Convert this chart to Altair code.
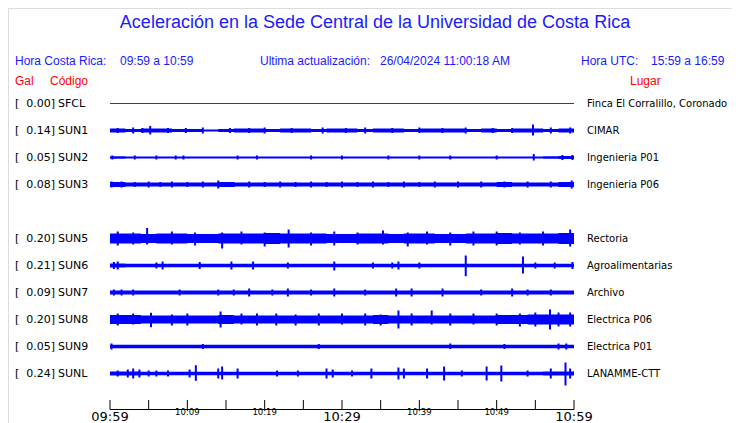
import altair as alt
import pandas as pd

# ---------------- data ----------------
codes = ["SFCL", "SUN1", "SUN2", "SUN3", "SUN5", "SUN6", "SUN7", "SUN8", "SUN9", "SUNL"]
rows = [0, 1, 2, 3, 5, 6, 7, 8, 9, 10]
gal = ["0.00", "0.14", "0.05", "0.08", "0.20", "0.21", "0.09", "0.20", "0.05", "0.24"]
places = ["Finca El Corralillo, Coronado", "CIMAR", "Ingenieria P01", "Ingenieria P06",
          "Rectoria", "Agroalimentarias", "Archivo", "Electrica P06", "Electrica P01",
          "LANAMME-CTT"]

# envelope half-amplitude per 2-minute block (30 blocks, 09:59 -> 10:59)
base_sun1 = [2, 1.5, 2, 2, 1.5, 1.5, 1, 1.5, 2, 2, 1.5, 2, 2, 1.5, 2, 2, 1.5, 2, 2, 1.5, 2, 2, 2, 1.5, 2, 1.5, 2, 2, 1.5, 2]
base_sun2 = [1.2, 1, 1, 1, 1, 1, 1, 1, 1, 1, 1, 1, 1, 1, 1, 1, 1, 1, 1, 1, 1, 1, 1, 1, 1, 1, 1, 1, 1.2, 1.5]
base_sun3 = [2.5, 2, 2, 2, 2, 2, 2, 2.5, 2, 2, 2, 2, 2, 2, 2, 2, 2, 2, 2, 2, 2, 2, 2, 2, 2, 2.5, 2, 2, 2, 2.5]
base_sun5 = [5, 5, 4.5, 5, 5, 4.5, 4.5, 5, 5, 5, 5.5, 5, 5, 5, 4.5, 4.5, 5, 5, 4.5, 5, 5, 4.5, 4.5, 5, 5, 5.5, 5, 5, 5, 5.5]
base_sun6 = [2, 1.7, 1.7, 1.7, 1.7, 1.7, 1.7, 1.7, 1.7, 1.7, 1.7, 1.7, 1.7, 1.7, 1.7, 1.7, 1.7, 1.7, 1.7, 1.7, 1.7, 1.7, 1.7, 1.7, 1.7, 1.7, 1.7, 1.7, 1.7, 1.7]
base_sun7 = [2, 2, 2, 2, 2, 2, 2, 2, 2, 2, 2, 2, 2, 2, 2, 2, 2, 2, 2, 2, 2, 2, 2, 2, 2, 2, 2, 2, 2, 2]
base_sun8 = [4.5, 4.5, 4, 4, 4, 4, 4, 4.5, 4, 4, 4, 4, 4, 4, 4, 4, 4, 4.5, 4, 4, 4, 4, 4, 4, 4, 4.5, 4.5, 5, 5, 5]
base_sun9 = [1.7, 1.7, 1.7, 1.7, 1.7, 1.7, 1.7, 1.7, 1.7, 1.7, 1.7, 1.7, 1.7, 1.7, 1.7, 1.7, 1.7, 1.7, 1.7, 1.7, 1.7, 1.7, 1.7, 1.7, 1.7, 1.7, 1.7, 1.7, 1.7, 1.7]
base_sunl = [2, 2, 1.8, 1.8, 1.8, 1.8, 1.8, 1.8, 1.8, 1.8, 1.8, 1.8, 1.8, 1.8, 1.8, 1.8, 1.8, 1.8, 1.8, 1.8, 1.8, 1.8, 1.8, 1.8, 1.8, 1.8, 1.8, 1.8, 2, 2]

# bursts: (minute, amplitude up, amplitude down)
burst_sun1 = [(1.0, 2.5, 2.5), (3.0, 3, 3), (4.2, 2.5, 2.5), (5.2, 4.5, 4), (7.5, 2.5, 2.5),
              (9.8, 2.5, 2.5), (12, 3, 3), (15.5, 2.5, 2.5), (18, 2.5, 2.5), (20, 3, 3),
              (23.5, 2.5, 2.5), (27.5, 3, 3), (30.5, 2.5, 2.5), (33, 3, 3), (36.5, 2.5, 2.5),
              (40, 3, 2.5), (43, 2.5, 2.5), (46, 3, 3), (49.5, 2.5, 2.5), (52, 2.5, 2.5),
              (54.7, 6, 5), (57, 3, 3), (59.5, 3, 3)]
burst_sun2 = [(0.3, 2, 2), (3.2, 2, 2), (6.0, 2, 2), (8.5, 2, 2), (9.5, 2, 2), (16.5, 2, 2),
              (19, 2, 2), (26, 2, 2), (30, 2, 2), (36, 2, 2), (40, 2, 2), (44, 2, 2),
              (50, 2, 2), (54.8, 3.5, 3), (58.5, 2.5, 2.5), (59.8, 2.5, 2.5)]
burst_sun3 = [(0.2, 3, 3), (1.5, 3, 3), (3.2, 2.5, 2.5), (5, 3, 3), (6.5, 2.5, 2.5), (8, 3, 3),
              (10, 2.5, 2.5), (12, 3, 3), (14, 4, 4), (16, 2.5, 2.5), (18, 3, 3), (20, 2.5, 2.5),
              (22, 3, 3), (24, 2.5, 2.5), (26, 3, 3), (28, 2.5, 2.5), (30, 3, 3), (32, 2.5, 2.5),
              (34, 3, 3), (36, 2.5, 2.5), (38, 3, 3), (40, 2.5, 2.5), (42, 3, 3), (45, 3, 3),
              (48, 3, 3), (51, 3, 3), (54, 3, 3), (57, 3, 3), (59.7, 4, 4)]
burst_sun5 = [(1, 7, 7), (3, 6, 6), (4.8, 10.5, 6), (8, 7, 6), (11, 6, 7), (14.5, 6, 10),
              (17, 7, 6), (20.0, 6, 8), (23.1, 9, 9), (26, 6, 7), (29, 7, 7), (32, 6, 6),
              (35.3, 8, 6), (38.5, 6, 8), (41, 7, 6), (44, 6, 7), (47, 7, 7), (50, 7, 7),
              (53, 6, 6), (56, 7, 7), (59.5, 9, 8)]
burst_sun6 = [(0.5, 3.5, 3.5), (1.0, 4, 4), (6.0, 3, 3), (6.8, 4, 4), (11.6, 3.5, 3.5),
              (15.7, 4, 4), (18.5, 4, 4), (23, 3, 3), (29, 4, 5), (34, 3, 3), (36.5, 3, 3),
              (37.3, 4, 4), (40, 3, 3), (46, 10, 10.7), (53.4, 9, 8), (55, 3, 3),
              (57.5, 3, 3), (59.8, 3.5, 3.5)]
burst_sun7 = [(0.5, 3, 3), (1.5, 3, 3), (3, 3, 3), (9, 3, 3), (14, 3, 3), (16, 3, 3),
              (18, 4, 4), (21, 3, 3), (23, 4, 4), (26, 3, 3), (29, 4, 4), (33, 3, 3),
              (37, 4, 4), (39, 4, 4), (43, 4, 4), (48, 3, 3), (52, 4, 4), (54, 3, 3), (57, 3, 3)]
burst_sun8 = [(1, 6, 6), (3, 6, 5), (5.3, 6.7, 7.7), (8, 5, 6), (10, 6, 6), (14.3, 8, 8),
              (17, 6, 5), (19, 6, 6), (21.5, 6, 6), (24, 5, 6), (27, 6, 6), (30, 6, 5),
              (33, 6, 6), (35, 5, 6), (37.3, 9, 9), (39, 6, 6), (41.6, 9, 5), (44, 6, 6),
              (47, 6, 5), (50, 6, 6), (53, 6, 7), (55, 7, 7), (56.9, 10, 10), (58, 7, 7), (59.5, 7, 7)]
burst_sun9 = [(0.2, 3, 3), (12, 2.5, 2.5), (27, 2.5, 2.5), (44, 3, 2.5), (51, 2.5, 2.5),
              (58, 3, 3), (59, 3, 3)]
burst_sunl = [(1, 3, 3), (2.3, 4, 4), (3, 5, 5), (3.8, 4, 4), (5, 3, 3), (6, 3, 3),
              (7.5, 3, 3), (10.3, 4, 4), (11.1, 8.3, 7.3), (14, 5, 5), (14.5, 7, 6),
              (16.5, 5, 5), (21.6, 3, 3), (24.3, 3, 3), (28, 5, 5), (28.8, 4, 4),
              (31.3, 3, 3), (33.8, 5, 5), (37.3, 6, 6), (38, 5, 5), (41, 5, 5), (43.2, 7, 7),
              (45.5, 3, 3), (48.7, 7, 7), (50.6, 8, 8), (54, 3, 3), (57, 5, 5),
              (58.9, 11, 12), (59.5, 5, 5)]

bases = {"SUN1": base_sun1, "SUN2": base_sun2, "SUN3": base_sun3, "SUN5": base_sun5,
         "SUN6": base_sun6, "SUN7": base_sun7, "SUN8": base_sun8, "SUN9": base_sun9,
         "SUNL": base_sunl}
bursts = {"SUN1": burst_sun1, "SUN2": burst_sun2, "SUN3": burst_sun3, "SUN5": burst_sun5,
          "SUN6": burst_sun6, "SUN7": burst_sun7, "SUN8": burst_sun8, "SUN9": burst_sun9,
          "SUNL": burst_sunl}

tick_minutes = list(range(0, 61, 5))
big_minutes = [0, 30, 60]
big_labels = ["09:59", "10:29", "10:59"]
small_minutes = [10, 20, 40, 50]
small_labels = ["10:09", "10:19", "10:39", "10:49"]

title_text = "Aceleración en la Sede Central de la Universidad de Costa Rica"
header_texts = ["Hora Costa Rica:", "09:59 a 10:59", "Ultima actualización:",
                "26/04/2024 11:00:18 AM", "Hora UTC:", "15:59 a 16:59"]
red_texts = ["Gal", "Código", "Lugar"]

# ---------------- tables ----------------
PX = 27.0  # pixels per row unit
row_of = dict(zip(codes, rows))
band_rows, burst_rows = [], []
for c, arr in bases.items():
    r = row_of[c]
    for i, a in enumerate(arr + [arr[-1]]):
        band_rows.append({"code": c, "t": 2 * i, "lo": r - a / PX, "hi": r + a / PX})
    for (t, up, dn) in bursts[c]:
        burst_rows.append({"code": c, "t": t, "lo": r - up / PX, "hi": r + dn / PX})
band_df = pd.DataFrame(band_rows)
burst_df = pd.DataFrame(burst_rows)
st_df = pd.DataFrame({"code": codes, "row": rows, "gal": [g + "]" for g in gal],
                      "place": places, "br": ["["] * len(codes)})

BLUE = "#0000ff"
HBLUE = "#1a1aff"
RED = "#ff0000"
xs = alt.Scale(domain=[0, 60], range=[102, 566], nice=False, zero=False)
ys = alt.Scale(domain=[0, 10], range=[95.5, 365.5], nice=False, zero=False)

band = alt.Chart(band_df).mark_area(interpolate="step-after", color=BLUE).encode(
    x=alt.X("t:Q", scale=xs, axis=None),
    y=alt.Y("lo:Q", scale=ys, axis=None), y2="hi:Q", detail="code:N")
spikes = alt.Chart(burst_df).mark_rule(color=BLUE, strokeWidth=2).encode(
    x=alt.X("t:Q", scale=xs, axis=None),
    y=alt.Y("lo:Q", scale=ys, axis=None), y2="hi:Q")
flat = alt.Chart(pd.DataFrame({"t0": [0], "t1": [60], "row": [rows[0]]})).mark_rule(
    color="#dd0000", strokeWidth=1).encode(
    x=alt.X("t0:Q", scale=xs, axis=None), x2="t1:Q",
    y=alt.Y("row:Q", scale=ys, axis=None))

LF = "DejaVu Sans"
lab_br = alt.Chart(st_df).mark_text(align="left", baseline="middle", font=LF, fontSize=11,
                                    color="black").encode(
    x=alt.value(7), y=alt.Y("row:Q", scale=ys, axis=None), text="br:N")
lab_gal = alt.Chart(st_df).mark_text(align="right", baseline="middle", font=LF, fontSize=11,
                                     color="black").encode(
    x=alt.value(47), y=alt.Y("row:Q", scale=ys, axis=None), text="gal:N")
lab_code = alt.Chart(st_df).mark_text(align="left", baseline="middle", font=LF, fontSize=11,
                                      color="black").encode(
    x=alt.value(50), y=alt.Y("row:Q", scale=ys, axis=None), text="code:N")
lab_place = alt.Chart(st_df).mark_text(align="left", baseline="middle", font=LF, fontSize=10,
                                       color="black").encode(
    x=alt.value(579), y=alt.Y("row:Q", scale=ys, axis=None), text="place:N")


def txt(s, x, y, size, color, font="Liberation Sans", align="left"):
    return alt.Chart(pd.DataFrame({"s": [s]})).mark_text(
        align=align, baseline="middle", fontSize=size, color=color, font=font).encode(
        x=alt.value(x), y=alt.value(y), text="s:N")


title = txt(title_text, 367, 15, 18, HBLUE, align="center")
hx = [7, 112, 252, 372, 573, 643]
headers = [txt(s, x, 53, 12, HBLUE) for s, x in zip(header_texts, hx)]
rx = [7, 42, 622]
reds = [txt(s, x, 73, 12, RED) for s, x in zip(red_texts, rx)]

# time axis
AX = 401
dom = alt.Chart(pd.DataFrame({"t0": [0], "t1": [60]})).mark_rule(
    color="black", strokeWidth=1).encode(
    x=alt.X("t0:Q", scale=xs, axis=None), x2="t1:Q", y=alt.value(AX + 0.5))
ticks = alt.Chart(pd.DataFrame({"t": tick_minutes})).mark_rule(
    color="black", strokeWidth=1).encode(
    x=alt.X("t:Q", scale=xs, axis=None), y=alt.value(AX - 9), y2=alt.value(AX + 0.5))
big_lab = alt.Chart(pd.DataFrame({"t": big_minutes, "s": big_labels})).mark_text(
    align="center", baseline="alphabetic", font=LF, fontSize=13, color="black").encode(
    x=alt.X("t:Q", scale=xs, axis=None), y=alt.value(AX + 12), text="s:N")
small_lab = alt.Chart(pd.DataFrame({"t": small_minutes, "s": small_labels})).mark_text(
    align="center", baseline="alphabetic", font=LF, fontSize=8.5, color="black").encode(
    x=alt.X("t:Q", scale=xs, axis=None), y=alt.value(AX + 6), text="s:N")

chart = alt.layer(
    band, spikes, flat, lab_br, lab_gal, lab_code, lab_place, title, *headers, *reds,
    dom, ticks, big_lab, small_lab
).properties(
    width=724, height=415, autosize=alt.AutoSizeParams(type="none"), padding=0
).configure_view(stroke=None).configure(background="white")

chart.save("out.html", embed_options={"renderer": "svg", "actions": False})
